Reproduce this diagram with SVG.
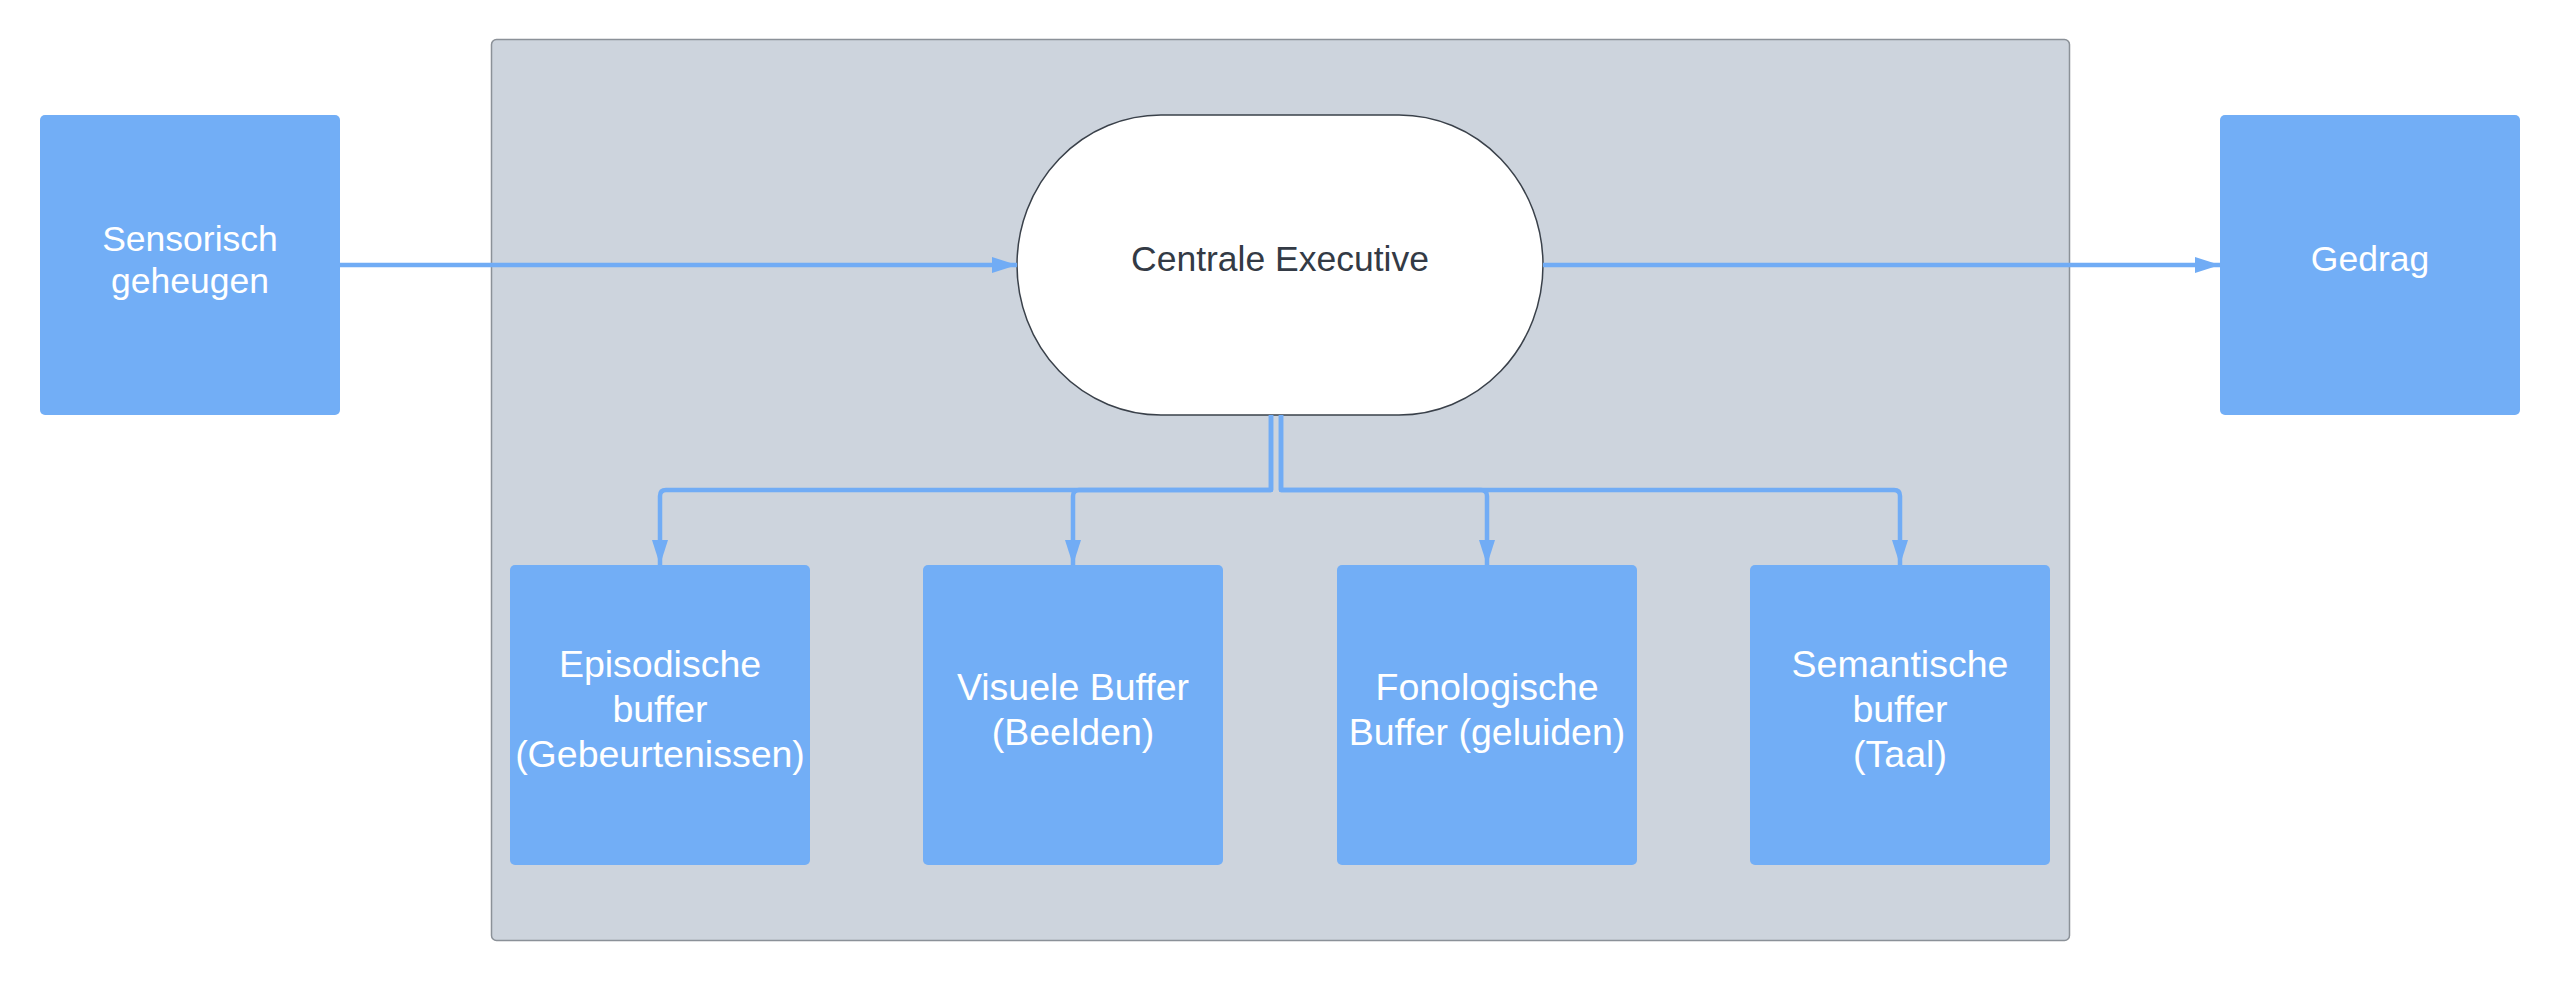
<svg xmlns="http://www.w3.org/2000/svg" width="2561" height="981" viewBox="0 0 2561 981">
  <defs>
    <marker id="arrow" markerUnits="userSpaceOnUse" markerWidth="26" markerHeight="16" refX="25" refY="8" orient="auto">
      <path d="M0,0 L25,8 L0,16 Z" fill="#71acf5"/>
    </marker>
    <style>
      .box { fill: #72aef6; }
      .lbl { font-family: "Liberation Sans", Arial, sans-serif; font-size: 35.5px; fill: #ffffff; text-anchor: middle; }
      .big { font-size: 37.5px; }
      .dark { fill: #333a45; }
      .conn { fill: none; stroke: #71acf5; stroke-width: 4.5; stroke-linejoin: round; marker-end: url(#arrow); }
    </style>
  </defs>
  <rect width="2561" height="981" fill="#ffffff"/>

  <g id="container">
    <rect x="491.5" y="39.5" width="1578" height="901" rx="5" fill="#cdd4dd" stroke="#8b9198" stroke-width="1.5"/>
  </g>

  <g id="sensorisch">
    <rect class="box" x="40" y="115" width="300" height="300" rx="5"/>
    <text class="lbl" x="190" y="251">Sensorisch</text>
    <text class="lbl" x="190" y="293">geheugen</text>
  </g>

  <g id="centrale">
    <path d="M1161,115 H1399 A144,150 0 0 1 1399,415 H1161 A144,150 0 0 1 1161,115 Z" fill="#ffffff" stroke="#3a414a" stroke-width="1.5"/>
    <text class="lbl dark" x="1280" y="271">Centrale Executive</text>
  </g>

  <g id="gedrag">
    <rect class="box" x="2220" y="115" width="300" height="300" rx="5"/>
    <text class="lbl" x="2370" y="271">Gedrag</text>
  </g>

  <g id="episodisch">
    <rect class="box" x="510" y="565" width="300" height="300" rx="5"/>
    <text class="lbl big" x="660" y="677">Episodische</text>
    <text class="lbl big" x="660" y="722">buffer</text>
    <text class="lbl big" x="660" y="767">(Gebeurtenissen)</text>
  </g>

  <g id="visueel">
    <rect class="box" x="923" y="565" width="300" height="300" rx="5"/>
    <text class="lbl big" x="1073" y="700">Visuele Buffer</text>
    <text class="lbl big" x="1073" y="745">(Beelden)</text>
  </g>

  <g id="fonologisch">
    <rect class="box" x="1337" y="565" width="300" height="300" rx="5"/>
    <text class="lbl big" x="1487" y="700">Fonologische</text>
    <text class="lbl big" x="1487" y="745">Buffer (geluiden)</text>
  </g>

  <g id="semantisch">
    <rect class="box" x="1750" y="565" width="300" height="300" rx="5"/>
    <text class="lbl big" x="1900" y="677">Semantische</text>
    <text class="lbl big" x="1900" y="722">buffer</text>
    <text class="lbl big" x="1900" y="767">(Taal)</text>
  </g>

  <g id="connectors">
    <path class="conn" d="M340,265 H1017"/>
    <path class="conn" d="M1543,265 H2220"/>
    <path class="conn" d="M1271,415 V490 H666 Q660,490 660,496 V565"/>
    <path class="conn" d="M1271,415 V490 H1079 Q1073,490 1073,496 V565"/>
    <path class="conn" d="M1281,415 V490 H1481 Q1487,490 1487,496 V565"/>
    <path class="conn" d="M1281,415 V490 H1894 Q1900,490 1900,496 V565"/>
  </g>
</svg>
